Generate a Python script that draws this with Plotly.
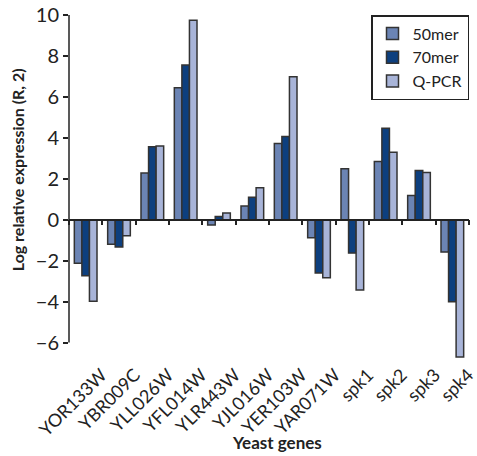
import plotly.graph_objects as go

genes = ["YOR133W", "YBR009C", "YLL026W", "YFL014W", "YLR443W", "YJL016W",
         "YER103W", "YAR071W", "spk1", "spk2", "spk3", "spk4"]
mer50 = [-2.13, -1.2, 2.28, 6.45, -0.26, 0.67, 3.72, -0.88, 2.49, 2.85, 1.19, -1.58]
mer70 = [-2.73, -1.33, 3.56, 7.56, 0.16, 1.1, 4.07, -2.6, -1.63, 4.47, 2.41, -4.0]
qpcr = [-3.98, -0.78, 3.6, 9.74, 0.33, 1.56, 6.98, -2.83, -3.43, 3.3, 2.31, -6.7]
series_names = ["50mer", "70mer", "Q-PCR"]
series_colors = ["#6b84b4", "#0d3f7e", "#a8b4d8"]
y_ticks = [-6, -4, -2, 0, 2, 4, 6, 8, 10]

FONT = "Lato"
INK = "#222222"
y_range = [-6.85, 10]
zero_frac = (0 - y_range[0]) / (y_range[1] - y_range[0])

fig = go.Figure()
for name, vals, col in zip(series_names, [mer50, mer70, qpcr], series_colors):
    fig.add_trace(go.Bar(x=genes, y=vals, name=name,
                         marker=dict(color=col, line=dict(color="#333333", width=1.5))))
# helper trace for the label axis
fig.add_trace(go.Scatter(x=genes, y=[0] * len(genes), xaxis="x2", mode="markers",
                         marker=dict(opacity=0), showlegend=False, hoverinfo="skip"))

fig.update_layout(
    width=477, height=456,
    margin=dict(l=69, r=0, t=15, b=96),
    paper_bgcolor="white", plot_bgcolor="white",
    font=dict(family=FONT, color=INK, size=17),
    barmode="group", bargap=0.32, bargroupgap=0,
    xaxis=dict(type="category", categoryorder="array", categoryarray=genes,
               range=[-0.5, len(genes) - 0.5],
               anchor="free", position=zero_frac,
               showline=True, linecolor=INK, linewidth=1.5,
               ticks="outside", tickson="boundaries", ticklen=5,
               tickcolor=INK, tickwidth=1.5,
               showticklabels=False, showgrid=False, zeroline=False),
    xaxis2=dict(type="category", categoryorder="array", categoryarray=genes,
                range=[-0.5, len(genes) - 0.5],
                overlaying="x", anchor="y", side="bottom",
                showline=False, ticks="", showgrid=False, zeroline=False,
                tickangle=-45, ticklabelshift=16,
                tickfont=dict(family=FONT, size=18, color=INK)),
    yaxis=dict(range=y_range, tickvals=y_ticks,
               ticks="outside", ticklen=5, tickcolor=INK, tickwidth=1.5,
               showline=False, showgrid=False, zeroline=False,
               tickfont=dict(family=FONT, size=20, color=INK)),
    legend=dict(x=1, xanchor="right", y=1.0, yanchor="top",
                bordercolor=INK, borderwidth=1.5, bgcolor="white",
                font=dict(family=FONT, size=16, color=INK),
                tracegroupgap=0, itemwidth=30),
    shapes=[dict(type="line", xref="paper", yref="y", x0=0, x1=0,
                 y0=min(y_ticks), y1=max(y_ticks),
                 line=dict(color=INK, width=1.5))],
    annotations=[
        dict(text="<b>Log relative expression (R, 2)</b>", textangle=-90,
             xref="paper", yref="paper", x=-0.13, y=0.55, xanchor="center",
             yanchor="middle", showarrow=False,
             font=dict(family=FONT, size=16, color=INK)),
        dict(text="<b>Yeast genes</b>", xref="paper", yref="paper",
             x=0.52, y=-0.24, xanchor="center", yanchor="middle", showarrow=False,
             font=dict(family=FONT, size=17, color=INK)),
    ],
)

fig.write_html("out.html", config={"displayModeBar": False},
               post_script="document.body.style.margin='0px';")
